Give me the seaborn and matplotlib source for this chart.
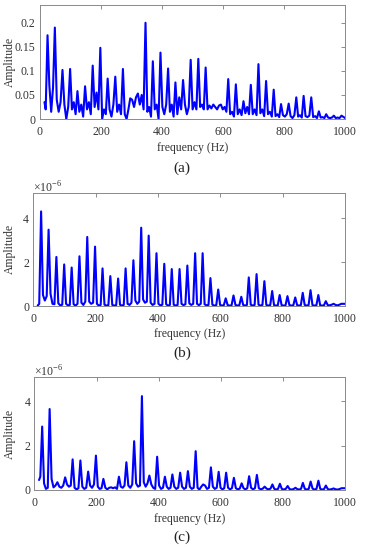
import numpy as np
import matplotlib
matplotlib.use("Agg")
import matplotlib.pyplot as plt
import seaborn as sns

# harmonic frequencies (Hz)
harm_freq = [25, 49, 74, 99, 123, 148, 173, 198, 222, 247, 272, 296, 321, 346,
             370, 395, 420, 444, 469, 494, 519, 543, 568, 593, 617, 642, 667,
             691, 716, 741, 766, 790, 815, 840, 864, 889, 914, 938, 963, 988]

# (a) peak amplitudes at each harmonic
peak_a = [0.174, 0.190, 0.102, 0.104, 0.058, 0.068, 0.111, 0.148, 0.084, 0.088,
          0.104, 0.043, 0.053, 0.200, 0.120, 0.138, 0.105, 0.076, 0.081, 0.123,
          0.125, 0.107, 0.030, 0.030, 0.083, 0.072, 0.037, 0.071, 0.114, 0.079,
          0.061, 0.031, 0.032, 0.045, 0.048, 0.045, 0.016, 0.010, 0.007, 0.007]
# (a) floor between consecutive harmonics (3 values per gap)
gap_a = [[0.070, 0.015, 0.065], [0.040, 0.015, 0.035], [0.030, 0.000, 0.025],
         [0.020, 0.035, 0.010], [0.015, 0.030, 0.005], [0.020, 0.035, 0.010],
         [0.025, 0.055, 0.020], [0.000, 0.020, 0.010], [0.020, 0.005, 0.030],
         [0.015, 0.030, 0.010], [0.010, 0.000, 0.020], [0.040, 0.025, 0.045],
         [0.030, 0.050, 0.020], [0.015, 0.025, 0.005], [0.020, 0.030, 0.000],
         [0.025, 0.010, 0.030], [0.015, 0.030, 0.005], [0.010, 0.045, 0.020],
         [0.030, 0.010, 0.025], [0.020, 0.035, 0.020], [0.025, 0.030, 0.020],
         [0.020, 0.028, 0.022], [0.025, 0.020, 0.028], [0.020, 0.025, 0.015],
         [0.010, 0.015, 0.005], [0.010, 0.020, 0.008], [0.012, 0.025, 0.010],
         [0.010, 0.020, 0.008], [0.012, 0.020, 0.006], [0.010, 0.015, 0.005],
         [0.006, 0.010, 0.004], [0.008, 0.005, 0.010], [0.006, 0.002, 0.008],
         [0.005, 0.008, 0.003], [0.006, 0.004, 0.007], [0.004, 0.006, 0.002],
         [0.003, 0.004, 0.002], [0.003, 0.002, 0.003], [0.002, 0.003, 0.002]]
start_a = [(15, 0.035), (19, 0.020)]
end_a = [(1000, 0.002)]

# (b) peak amplitudes, x1e-6
peak_b = [4.30, 3.47, 2.23, 1.89, 1.75, 2.26, 3.14, 2.70, 1.71, 1.36,
          1.25, 1.71, 2.08, 3.56, 3.20, 2.40, 1.92, 1.68, 1.68, 1.84,
          2.40, 2.40, 1.27, 0.75, 0.35, 0.48, 0.42, 1.30, 1.45, 1.13,
          0.68, 0.50, 0.45, 0.39, 0.60, 0.72, 0.50, 0.22, 0.10, 0.10]
gap_b = [[0.50, 0.25, 0.45], [0.55, 0.10, 0.08], [0.12, 0.03, 0.06],
         [0.10, 0.03, 0.05], [0.08, 0.02, 0.10], [0.15, 0.05, 0.20],
         [0.20, 0.10, 0.15], [0.10, 0.02, 0.05], [0.06, 0.02, 0.04],
         [0.05, 0.02, 0.04], [0.06, 0.02, 0.05], [0.10, 0.05, 0.15],
         [0.25, 0.10, 0.20], [0.30, 0.15, 0.20], [0.15, 0.05, 0.10],
         [0.10, 0.03, 0.06], [0.08, 0.02, 0.05], [0.06, 0.02, 0.05],
         [0.10, 0.04, 0.08], [0.12, 0.05, 0.10], [0.10, 0.04, 0.10],
         [0.08, 0.03, 0.05], [0.06, 0.02, 0.04], [0.05, 0.02, 0.04],
         [0.04, 0.02, 0.03], [0.05, 0.02, 0.04], [0.05, 0.02, 0.05],
         [0.06, 0.02, 0.05], [0.06, 0.02, 0.05], [0.05, 0.02, 0.04],
         [0.04, 0.02, 0.03], [0.04, 0.02, 0.03], [0.04, 0.02, 0.03],
         [0.04, 0.02, 0.04], [0.05, 0.02, 0.04], [0.04, 0.02, 0.03],
         [0.03, 0.02, 0.03], [0.04, 0.03, 0.06], [0.05, 0.03, 0.06]]
start_b = [(14, 0.02), (19, 0.10)]
end_b = [(1000, 0.10)]

# (c) peak amplitudes, x1e-6
peak_c = [2.86, 3.65, 0.35, 0.57, 1.38, 1.33, 0.83, 1.55, 0.50, 0.12,
          0.60, 1.25, 2.20, 4.23, 0.65, 1.50, 0.60, 0.70, 0.78, 0.85,
          1.75, 0.25, 1.02, 0.82, 0.78, 0.55, 0.30, 0.62, 0.68, 0.15,
          0.25, 0.28, 0.18, 0.10, 0.32, 0.38, 0.42, 0.20, 0.07, 0.08]
gap_c = [[0.30, 0.05, 0.10], [0.50, 0.12, 0.20], [0.15, 0.10, 0.20],
         [0.25, 0.15, 0.20], [0.10, 0.03, 0.08], [0.15, 0.05, 0.10],
         [0.20, 0.10, 0.25], [0.15, 0.05, 0.08], [0.10, 0.03, 0.10],
         [0.08, 0.12, 0.05], [0.15, 0.10, 0.20], [0.20, 0.10, 0.25],
         [0.30, 0.15, 0.20], [0.35, 0.15, 0.30], [0.25, 0.10, 0.05],
         [0.20, 0.05, 0.10], [0.15, 0.05, 0.10], [0.15, 0.05, 0.10],
         [0.15, 0.05, 0.10], [0.15, 0.05, 0.10], [0.10, 0.02, 0.15],
         [0.20, 0.05, 0.10], [0.15, 0.05, 0.10], [0.10, 0.03, 0.08],
         [0.10, 0.03, 0.08], [0.08, 0.03, 0.06], [0.08, 0.03, 0.08],
         [0.10, 0.03, 0.08], [0.08, 0.03, 0.06], [0.06, 0.03, 0.06],
         [0.05, 0.02, 0.05], [0.05, 0.02, 0.05], [0.04, 0.02, 0.04],
         [0.04, 0.02, 0.05], [0.05, 0.02, 0.05], [0.06, 0.02, 0.05],
         [0.05, 0.02, 0.04], [0.04, 0.02, 0.04], [0.03, 0.02, 0.04]]
start_c = [(15, 0.45), (19, 0.60)]
end_c = [(1000, 0.08)]


def build_curve(peaks, gaps, start, end):
    xs = [p[0] for p in start]
    ys = [p[1] for p in start]
    for k, (f, a) in enumerate(zip(harm_freq, peaks)):
        xs.append(f)
        ys.append(a)
        if k < len(gaps):
            df = harm_freq[k + 1] - f
            for j, v in enumerate(gaps[k]):
                xs.append(f + df * (j + 1) / 4)
                ys.append(v)
    xs += [p[0] for p in end]
    ys += [p[1] for p in end]
    return np.array(xs), np.array(ys)


sns.set_style("white")
plt.rcParams['font.family'] = ['Liberation Serif', 'DejaVu Serif']
plt.rcParams['mathtext.fontset'] = 'custom'
plt.rcParams['mathtext.rm'] = 'Liberation Serif'
plt.rcParams['font.size'] = 8.5

fig = plt.figure(figsize=(3.66, 5.5), dpi=100)
boxes = [[0.109, 0.7836, 0.834, 0.2074],
         [0.091, 0.4436, 0.852, 0.2060],
         [0.094, 0.1091, 0.849, 0.2049]]
curves = [build_curve(peak_a, gap_a, start_a, end_a),
          build_curve(peak_b, gap_b, start_b, end_b),
          build_curve(peak_c, gap_c, start_c, end_c)]
ylims = [0.237, 5.15, 5.08]
yticks = [[0, 0.05, 0.1, 0.15, 0.2], [0, 2, 4], [0, 2, 4]]
ytlabels = [['0', '0.05', '0.1', '0.15', '0.2'], ['0', '2', '4'], ['0', '2', '4']]
tags = ['(a)', '(b)', '(c)']
tag_y = [1 - 168 / 550, 1 - 353 / 550, 1 - 537 / 550]
ylab_x = [-0.098, -0.075, -0.078]
xlab_y = [-0.254, -0.247, -0.26]

for i in range(3):
    ax = fig.add_axes(boxes[i])
    x, y = curves[i]
    sns.lineplot(x=x, y=y, ax=ax, color='#0000ff', linewidth=1.5,
                 estimator=None, sort=False)
    ax.set_xlim(0, 1000)
    ax.set_ylim(0, ylims[i])
    ax.set_xticks([0, 200, 400, 600, 800, 1000])
    ax.set_yticks(yticks[i])
    ax.set_yticklabels(ytlabels[i])
    ax.tick_params(direction='in', length=3, width=0.6, top=True, right=True,
                   colors='#7a7a7a', labelcolor='#333333', labelsize=8.5)
    ax.tick_params(axis='x', pad=5)
    ax.tick_params(axis='y', pad=3)
    for s in ax.spines.values():
        s.set_color('#8a8a8a')
        s.set_linewidth(0.7)
    ax.set_xlabel('frequency (Hz)', color='#333333', fontsize=8.5)
    ax.set_ylabel('Amplitude', color='#333333', fontsize=8.5)
    ax.xaxis.set_label_coords(0.5, xlab_y[i])
    ax.yaxis.set_label_coords(ylab_x[i], 0.5)
    ax.xaxis.label.set_va('center')
    ax.yaxis.label.set_va('center')
    if i > 0:
        ax.text(0.0, 1.045, r'$\times$10$^{-6}$', transform=ax.transAxes,
                ha='left', va='center', color='#333333', fontsize=8.5)
    fig.text(0.497, tag_y[i], tags[i], ha='center', va='center',
             color='#222222', fontsize=11)

fig.savefig('out.png', dpi=100)
